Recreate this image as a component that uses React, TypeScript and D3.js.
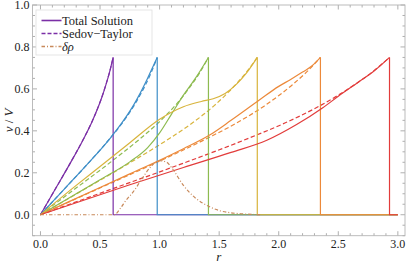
import React from "react";
import * as d3 from "d3";

const settings = {
  width: 407,
  height: 267,
  frame: { left: 32.5, right: 405, top: 5, bottom: 235.7 },
};

const colors = ["#7b2fa6", "#3f8fc8", "#8dbb50", "#d8b43c", "#ec893a", "#e23c3b"];
const deltaColor = "#c8895a";

// shock radius of each snapshot
const shockR = [0.61, 0.98, 1.41, 1.82, 2.35, 2.93];

// Sedov-Taylor (dashed), same v values for every snapshot
const sedovV = [0, 0.12, 0.24, 0.367, 0.437, 0.519, 0.567, 0.62, 0.68, 0.75];
const sedovR1 = [0, 0.122, 0.244, 0.366, 0.427, 0.488, 0.519, 0.549, 0.58, 0.61];
const sedovR2 = [0, 0.196, 0.392, 0.588, 0.686, 0.784, 0.833, 0.882, 0.931, 0.98];
const sedovR3 = [0, 0.282, 0.564, 0.846, 0.987, 1.128, 1.199, 1.269, 1.34, 1.41];
const sedovR4 = [0, 0.364, 0.728, 1.092, 1.274, 1.456, 1.547, 1.638, 1.729, 1.82];
const sedovR5 = [0, 0.47, 0.94, 1.41, 1.645, 1.88, 1.998, 2.115, 2.233, 2.35];
const sedovR6 = [0, 0.586, 1.172, 1.758, 2.051, 2.344, 2.491, 2.637, 2.784, 2.93];

// total solution (solid)
const totR1 = [0, 0.122, 0.244, 0.366, 0.427, 0.488, 0.519, 0.549, 0.58, 0.61];
const totV1 = [0, 0.12, 0.24, 0.366, 0.436, 0.518, 0.566, 0.619, 0.68, 0.75];
const totR2 = [0, 0.196, 0.392, 0.588, 0.686, 0.784, 0.833, 0.882, 0.931, 0.98];
const totV2 = [0, 0.12, 0.24, 0.367, 0.44, 0.525, 0.575, 0.63, 0.69, 0.75];
const totR3 = [0, 0.3, 0.5, 0.75, 0.9, 1.0, 1.1, 1.2, 1.3, 1.41];
const totV3 = [0, 0.1, 0.167, 0.252, 0.32, 0.39, 0.48, 0.57, 0.65, 0.75];
const totR4 = [0, 0.3, 0.5, 0.75, 1.0, 1.2, 1.35, 1.45, 1.55, 1.65, 1.73, 1.82];
const totV4 = [0, 0.14, 0.23, 0.343, 0.455, 0.515, 0.54, 0.553, 0.578, 0.625, 0.676, 0.75];
const totR5 = [0, 0.5, 0.75, 1.0, 1.2, 1.42, 1.6, 1.84, 2.0, 2.1, 2.2, 2.28, 2.35];
const totV5 = [0, 0.13, 0.195, 0.26, 0.315, 0.38, 0.45, 0.548, 0.612, 0.645, 0.68, 0.71, 0.75];
const totR6 = [0, 0.75, 1.2, 1.6, 1.9, 2.15, 2.37, 2.5, 2.65, 2.8, 2.93];
const totV6 = [0, 0.143, 0.225, 0.297, 0.355, 0.43, 0.51, 0.565, 0.625, 0.685, 0.75];

// density perturbation (dash-dot)
const deltaR = [0, 0.62, 0.67, 0.72, 0.78, 0.85, 0.92, 1.0, 1.06, 1.1, 1.2, 1.3, 1.42, 1.5, 1.6, 1.7, 1.85];
const deltaV = [0, 0, 0.03, 0.07, 0.11, 0.17, 0.225, 0.258, 0.25, 0.225, 0.14, 0.08, 0.038, 0.02, 0.009, 0.004, 0];

const xMajor = [0, 0.5, 1, 1.5, 2, 2.5, 3];
const yMajor = [0, 0.2, 0.4, 0.6, 0.8, 1.0];
const rMax = 3.0;

const legendLabels = ["Total Solution", "Sedov\u2212Taylor"];

const font = "Liberation Serif, Times New Roman, DejaVu Serif, serif";

export default function App() {
  const { frame } = settings;
  const x = d3.scaleLinear().domain([-0.067, 3.06]).range([frame.left, frame.right]);
  const y = d3.scaleLinear().domain([-0.1, 1.0]).range([frame.bottom, frame.top]);

  const smooth = d3
    .line<[number, number]>()
    .x((d) => x(d[0]))
    .y((d) => y(d[1]))
    .curve(d3.curveMonotoneX);
  const straight = d3
    .line<[number, number]>()
    .x((d) => x(d[0]))
    .y((d) => y(d[1]));

  const zip = (rs: number[], vs: number[]) =>
    rs.map((r, i) => [r, vs[i]] as [number, number]);

  const sedov = [sedovR1, sedovR2, sedovR3, sedovR4, sedovR5, sedovR6].map((rs) =>
    zip(rs, sedovV)
  );
  const total = [
    zip(totR1, totV1),
    zip(totR2, totV2),
    zip(totR3, totV3),
    zip(totR4, totV4),
    zip(totR5, totV5),
    zip(totR6, totV6),
  ];
  const delta = zip(deltaR, deltaV);

  const xMinor = d3.range(0, 31).map((i) => i / 10).filter((v) => !xMajor.some((m) => Math.abs(m - v) < 1e-6));
  const yMinor = d3.range(-2, 21).map((i) => i / 20).filter((v) => !yMajor.some((m) => Math.abs(m - v) < 1e-6));

  const tickColor = "#9a9a9a";
  const textStyle = { fontFamily: font };

  return (
    <svg
      width={settings.width}
      height={settings.height}
      style={{ position: "absolute", left: 0, top: 0, background: "#fff" }}
    >
      {/* ticks */}
      <g stroke={tickColor} strokeWidth={0.8}>
        {xMajor.map((v) => (
          <g key={"xM" + v}>
            <line x1={x(v)} x2={x(v)} y1={frame.bottom} y2={frame.bottom - 4.5} />
            <line x1={x(v)} x2={x(v)} y1={frame.top} y2={frame.top + 4.5} />
          </g>
        ))}
        {xMinor.map((v) => (
          <g key={"xm" + v}>
            <line x1={x(v)} x2={x(v)} y1={frame.bottom} y2={frame.bottom - 2.5} />
            <line x1={x(v)} x2={x(v)} y1={frame.top} y2={frame.top + 2.5} />
          </g>
        ))}
        {yMajor.map((v) => (
          <g key={"yM" + v}>
            <line x1={frame.left} x2={frame.left + 4.5} y1={y(v)} y2={y(v)} />
            <line x1={frame.right} x2={frame.right - 4.5} y1={y(v)} y2={y(v)} />
          </g>
        ))}
        {yMinor.map((v) => (
          <g key={"ym" + v}>
            <line x1={frame.left} x2={frame.left + 2.5} y1={y(v)} y2={y(v)} />
            <line x1={frame.right} x2={frame.right - 2.5} y1={y(v)} y2={y(v)} />
          </g>
        ))}
      </g>
      <rect
        x={frame.left}
        y={frame.top}
        width={frame.right - frame.left}
        height={frame.bottom - frame.top}
        fill="none"
        stroke="#b4b4b4"
        strokeWidth={0.9}
      />

      {/* tick labels */}
      <g style={textStyle} fontSize={12} fill="#222">
        {xMajor.map((v) => (
          <text key={"xl" + v} x={x(v)} y={frame.bottom + 12} textAnchor="middle" style={textStyle}>
            {v.toFixed(1)}
          </text>
        ))}
        {yMajor.map((v) => (
          <text key={"yl" + v} x={frame.left - 3} y={y(v) + 4} textAnchor="end" style={textStyle}>
            {v.toFixed(1)}
          </text>
        ))}
      </g>

      {/* axis labels */}
      <text
        x={(frame.left + frame.right) / 2}
        y={261}
        textAnchor="middle"
        style={textStyle}
        fontSize={13}
        fontStyle="italic"
        fill="#222"
      >
        r
      </text>
      <text
        transform={`translate(13,${(frame.top + frame.bottom) / 2}) rotate(-90)`}
        textAnchor="middle"
        style={textStyle}
        fontSize={13}
        fill="#222"
      >
        <tspan fontStyle="italic">v</tspan>
        <tspan> / </tspan>
        <tspan fontStyle="italic">V</tspan>
      </text>

      {/* Sedov-Taylor dashed */}
      <g fill="none" strokeWidth={1.2} strokeDasharray="4.5,2.5">
        {sedov.map((pts, i) => (
          <path key={"s" + i} d={smooth(pts) || ""} stroke={colors[i]} />
        ))}
      </g>

      {/* total solution */}
      <g fill="none" strokeWidth={1.2}>
        {total.map((pts, i) => (
          <g key={"t" + i}>
            <path d={smooth(pts) || ""} stroke={colors[i]} />
            <path
              d={straight([[shockR[i], pts[pts.length - 1][1]], [shockR[i], 0], [rMax, 0]]) || ""}
              stroke={colors[i]}
            />
          </g>
        ))}
      </g>

      {/* delta rho */}
      <path
        d={smooth(delta) || ""}
        fill="none"
        stroke={deltaColor}
        strokeWidth={1.2}
        strokeDasharray="3.5,2,1,2"
      />

      {/* legend */}
      <g>
        <rect x={36} y={10} width={116} height={45} fill="#fff" stroke="#dedede" strokeWidth={0.8} />
        <line x1={41.5} x2={61.5} y1={20.5} y2={20.5} stroke={colors[0]} strokeWidth={1.6} />
        <line x1={41.5} x2={61.5} y1={33.5} y2={33.5} stroke={colors[0]} strokeWidth={1.6} strokeDasharray="4,2" />
        <line x1={41.5} x2={61.5} y1={46.5} y2={46.5} stroke={deltaColor} strokeWidth={1.6} strokeDasharray="3.5,2,1,2" />
        <g style={textStyle} fontSize={12.5} fill="#222">
          {legendLabels.map((t, i) => (
            <text key={t} x={62} y={24.8 + i * 13} style={textStyle}>
              {t}
            </text>
          ))}
          <text x={62} y={50.8} fontStyle="italic" style={textStyle}>
            δρ
          </text>
        </g>
      </g>
    </svg>
  );
}
